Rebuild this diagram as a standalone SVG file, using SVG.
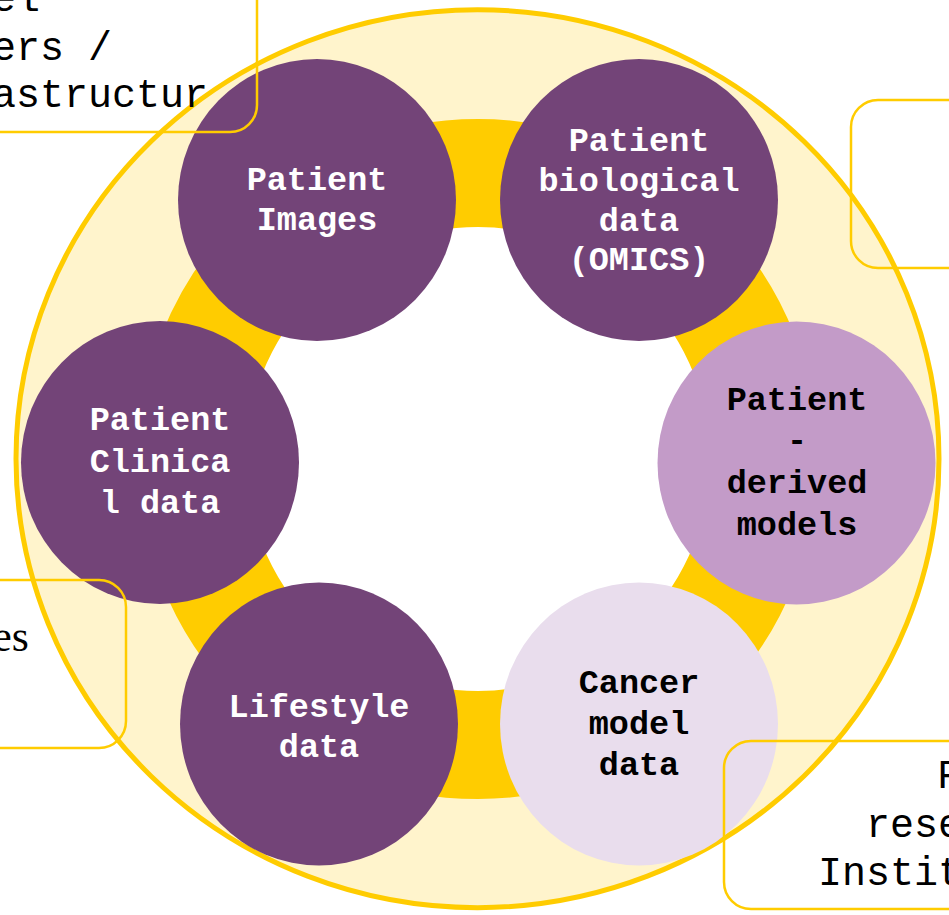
<svg xmlns="http://www.w3.org/2000/svg" width="949" height="915" viewBox="0 0 949 915">
<style>
.bg{fill:#FFF4CC;stroke:#FFCC00;stroke-width:5}
.ring{fill:#FFFFFF;stroke:#FFCC00;stroke-width:108}
.dark{fill:#734478}
.mid{fill:#C39BC8}
.light{fill:#E9DDED}
.box{fill:none;stroke:#FFCC00;stroke-width:2.5}
.lbl{font-family:"Liberation Mono","Courier New",monospace;font-weight:bold;font-size:33.5px;text-anchor:middle}
.w{fill:#FFFFFF}
.k{fill:#000000}
.bt{font-family:"Liberation Mono","Courier New",monospace;font-size:40px;fill:#000000}
.bs{font-family:"Liberation Serif","Times New Roman",serif;font-size:44px;fill:#000000}
</style>
<rect width="949" height="915" fill="#FFFFFF"/>
<g id="background">
<ellipse class="bg" cx="477.5" cy="458.7" rx="461.5" ry="449"/>
<circle class="ring" cx="478" cy="459" r="286"/>
</g>
<g id="connectors"/>
<g id="node-images">
<ellipse class="dark" cx="317" cy="200" rx="139" ry="141"/>
<text class="lbl w" x="317" y="190">Patient</text>
<text class="lbl w" x="317" y="230">Images</text>
</g>
<g id="node-biological">
<ellipse class="dark" cx="639" cy="200" rx="139" ry="141"/>
<text class="lbl w" x="639" y="151">Patient</text>
<text class="lbl w" x="639" y="191">biological</text>
<text class="lbl w" x="639" y="231">data</text>
<text class="lbl w" x="639" y="270">(OMICS)</text>
</g>
<g id="node-clinical">
<ellipse class="dark" cx="160" cy="462.5" rx="139" ry="141.5"/>
<text class="lbl w" x="160" y="430">Patient</text>
<text class="lbl w" x="160" y="472">Clinica</text>
<text class="lbl w" x="160" y="513">l data</text>
</g>
<g id="node-derived">
<ellipse class="mid" cx="796.5" cy="463" rx="139" ry="141.5"/>
<text class="lbl k" x="797" y="410">Patient</text>
<text class="lbl k" x="797" y="451">-</text>
<text class="lbl k" x="797" y="493">derived</text>
<text class="lbl k" x="797" y="535">models</text>
</g>
<g id="node-lifestyle">
<ellipse class="dark" cx="319" cy="724" rx="139" ry="141.5"/>
<text class="lbl w" x="319" y="717">Lifestyle</text>
<text class="lbl w" x="319" y="757">data</text>
</g>
<g id="node-cancer">
<ellipse class="light" cx="639" cy="724" rx="139" ry="141.5"/>
<text class="lbl k" x="639" y="693">Cancer</text>
<text class="lbl k" x="639" y="734">model</text>
<text class="lbl k" x="639" y="775">data</text>
</g>
<g id="box-top-left">
<rect class="box" x="-300" y="-36" width="557" height="168" rx="27"/>
<text class="bt" x="-8" y="11">el</text>
<text class="bt" x="-8" y="60">ers /</text>
<text class="bt" x="-8" y="107">astructur</text>
</g>
<g id="box-top-right">
<rect class="box" x="851" y="100" width="400" height="168" rx="27"/>
</g>
<g id="box-left">
<rect class="box" x="-300" y="580" width="426" height="168" rx="27"/>
<text class="bs" x="29" y="651" text-anchor="end">es</text>
</g>
<g id="box-bottom-right">
<rect class="box" x="724" y="741" width="400" height="168" rx="27"/>
<text class="bt" x="937" y="788">F</text>
<text class="bt" x="866" y="837">rese</text>
<text class="bt" x="818" y="885">Instit</text>
</g>
</svg>
